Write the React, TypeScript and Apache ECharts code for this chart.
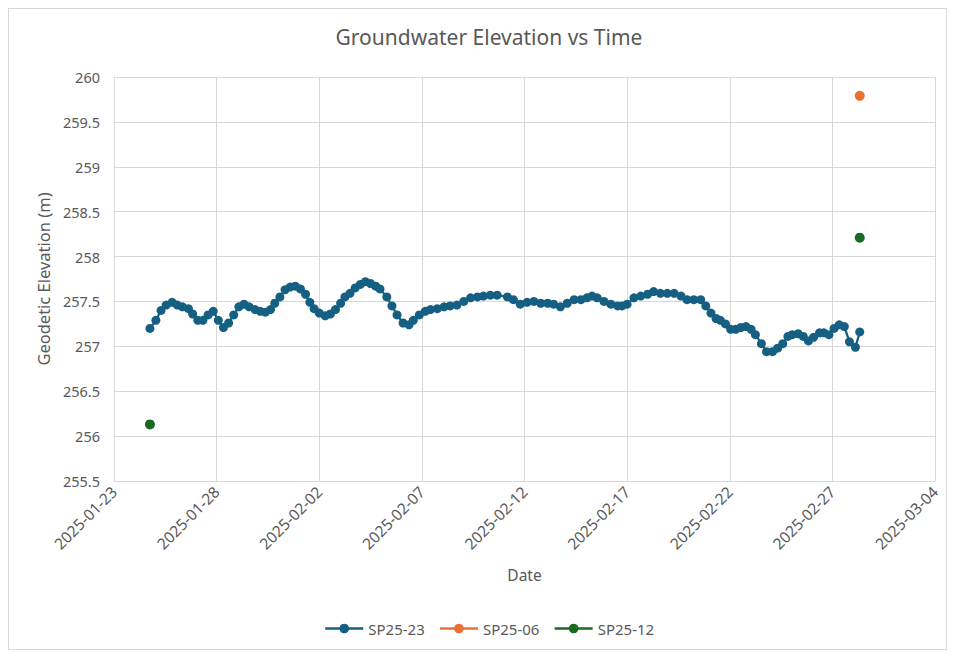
import React, { useEffect, useRef } from "react";
import * as echarts from "echarts";

const BASE_DATE = "2025-01-23";
const X_TICK_DAYS = 5;
const X_MAX_DAYS = 40;
const Y_TICKS = [255.5, 256, 256.5, 257, 257.5, 258, 258.5, 259, 259.5, 260];

const sp2523Times = [
  "2025-01-24 18:00", "2025-01-25 01:00", "2025-01-25 07:00", "2025-01-25 13:00", "2025-01-25 20:00",
  "2025-01-26 02:00", "2025-01-26 08:00", "2025-01-26 15:00", "2025-01-26 20:00", "2025-01-27 02:00",
  "2025-01-27 08:00", "2025-01-27 14:00", "2025-01-27 20:00", "2025-01-28 02:00", "2025-01-28 08:00",
  "2025-01-28 14:00", "2025-01-28 20:00", "2025-01-29 02:00", "2025-01-29 08:00", "2025-01-29 14:00",
  "2025-01-29 21:00", "2025-01-30 03:00", "2025-01-30 09:00", "2025-01-30 15:00", "2025-01-30 20:00",
  "2025-01-31 02:00", "2025-01-31 08:00", "2025-01-31 14:00", "2025-01-31 20:00", "2025-02-01 02:00",
  "2025-02-01 08:00", "2025-02-01 13:00", "2025-02-01 18:00", "2025-02-02 00:00", "2025-02-02 07:00",
  "2025-02-02 13:00", "2025-02-02 19:00", "2025-02-03 01:00", "2025-02-03 06:00", "2025-02-03 12:00",
  "2025-02-03 18:00", "2025-02-04 00:00", "2025-02-04 06:00", "2025-02-04 12:00", "2025-02-04 18:00",
  "2025-02-04 23:00", "2025-02-05 07:00", "2025-02-05 13:00", "2025-02-05 19:00", "2025-02-06 02:00",
  "2025-02-06 09:00", "2025-02-06 14:00", "2025-02-06 21:00", "2025-02-07 04:00", "2025-02-07 10:00",
  "2025-02-07 18:00", "2025-02-08 02:00", "2025-02-08 09:00", "2025-02-08 17:00", "2025-02-09 01:00",
  "2025-02-09 09:00", "2025-02-09 17:00", "2025-02-10 00:00", "2025-02-10 08:00", "2025-02-10 16:00",
  "2025-02-11 04:00", "2025-02-11 11:00", "2025-02-11 19:00", "2025-02-12 03:00", "2025-02-12 11:00",
  "2025-02-12 19:00", "2025-02-13 03:00", "2025-02-13 10:00", "2025-02-13 18:00", "2025-02-14 02:00",
  "2025-02-14 10:00", "2025-02-14 18:00", "2025-02-15 01:00", "2025-02-15 07:00", "2025-02-15 13:00",
  "2025-02-15 21:00", "2025-02-16 05:00", "2025-02-16 13:00", "2025-02-16 18:00", "2025-02-17 00:00",
  "2025-02-17 08:00", "2025-02-17 16:00", "2025-02-18 00:00", "2025-02-18 07:00", "2025-02-18 15:00",
  "2025-02-18 23:00", "2025-02-19 07:00", "2025-02-19 15:00", "2025-02-19 22:00", "2025-02-20 06:00",
  "2025-02-20 14:00", "2025-02-20 20:00", "2025-02-21 02:00", "2025-02-21 08:00", "2025-02-21 13:00",
  "2025-02-21 19:00", "2025-02-22 01:00", "2025-02-22 07:00", "2025-02-22 13:00", "2025-02-22 19:00",
  "2025-02-23 01:00", "2025-02-23 06:00", "2025-02-23 13:00", "2025-02-23 19:00", "2025-02-24 02:00",
  "2025-02-24 08:00", "2025-02-24 14:00", "2025-02-24 20:00", "2025-02-25 01:00", "2025-02-25 08:00",
  "2025-02-25 14:00", "2025-02-25 20:00", "2025-02-26 02:00", "2025-02-26 09:00", "2025-02-26 14:00",
  "2025-02-26 20:00", "2025-02-27 02:00", "2025-02-27 08:00", "2025-02-27 14:00", "2025-02-27 20:00",
  "2025-02-28 03:00", "2025-02-28 08:00",
];

const sp2523Values = [
  257.20, 257.29, 257.40, 257.46, 257.49,
  257.46, 257.44, 257.42, 257.36, 257.29,
  257.29, 257.35, 257.39, 257.29, 257.21,
  257.26, 257.35, 257.44, 257.47, 257.44,
  257.41, 257.39, 257.38, 257.41, 257.48,
  257.55, 257.63, 257.66, 257.67, 257.64,
  257.58, 257.49, 257.42, 257.37, 257.34,
  257.36, 257.41, 257.48, 257.55, 257.59,
  257.65, 257.69, 257.72, 257.70, 257.67,
  257.64, 257.55, 257.45, 257.35, 257.26,
  257.24, 257.29, 257.35, 257.39, 257.41,
  257.42, 257.44, 257.45, 257.46, 257.50,
  257.54, 257.55, 257.56, 257.57, 257.57,
  257.55, 257.52, 257.47, 257.49, 257.50,
  257.48, 257.48, 257.47, 257.44, 257.48,
  257.52, 257.52, 257.54, 257.56, 257.54,
  257.50, 257.47, 257.45, 257.45, 257.47,
  257.54, 257.56, 257.58, 257.61, 257.59,
  257.59, 257.59, 257.56, 257.52, 257.52,
  257.52, 257.45, 257.37, 257.31, 257.29,
  257.25, 257.19, 257.19, 257.21, 257.22,
  257.19, 257.13, 257.03, 256.94, 256.94,
  256.98, 257.03, 257.11, 257.13, 257.14,
  257.11, 257.06, 257.10, 257.15, 257.15,
  257.13, 257.20, 257.24, 257.22, 257.05,
  256.99, 257.16,
];

const sp2506Times = ["2025-02-28 08:00"];
const sp2506Values = [259.79];

const sp2512Times = ["2025-01-24 18:00", "2025-02-28 08:00"];
const sp2512Values = [256.13, 258.21];

const SERIES_NAMES = ["SP25-23", "SP25-06", "SP25-12"];
const COLORS = ["#156082", "#E97132", "#196B24"];

const DAY_MS = 86400000;
const baseMs = Date.parse(BASE_DATE + "T00:00:00Z");
const toDay = (t: string) => (Date.parse(t.replace(" ", "T") + ":00Z") - baseMs) / DAY_MS;
const dayToLabel = (d: number) => {
  const dt = new Date(baseMs + d * DAY_MS);
  const mm = String(dt.getUTCMonth() + 1).padStart(2, "0");
  const dd = String(dt.getUTCDate()).padStart(2, "0");
  return `${dt.getUTCFullYear()}-${mm}-${dd}`;
};

const FONT = "Noto Sans";
const TEXT = "#595959";
const GRID = "#d9d9d9";

export default function App() {
  const ref = useRef<HTMLDivElement>(null);
  useEffect(() => {
    if (!ref.current) return;
    const chart = echarts.init(ref.current, undefined, { renderer: "svg" });
    const pairs = (ts: string[], vs: number[]) => ts.map((t, i) => [toDay(t), vs[i]]);
    chart.setOption({
      animation: false,
      backgroundColor: "#ffffff",
      textStyle: { fontFamily: FONT },
      graphic: [
        {
          type: "text",
          x: 480,
          y: 28,
          style: {
            text: "Groundwater Elevation vs Time",
            fontSize: 21,
            fontFamily: FONT,
            fill: TEXT,
            textAlign: "center",
            textVerticalAlign: "middle",
          },
        },
      ],
      grid: { left: 105, top: 68, width: 821, height: 404 },
      legend: {
        left: 310,
        top: 607,
        itemWidth: 38,
        itemHeight: 12,
        itemGap: 14,
        textStyle: { fontSize: 15, color: TEXT, fontFamily: FONT },
        data: SERIES_NAMES.map((n, i) => ({
          name: n,
          lineStyle: { width: 2.5, color: COLORS[i], opacity: 1 },
        })),
      },
      xAxis: {
        type: "value",
        min: 0,
        max: X_MAX_DAYS,
        interval: X_TICK_DAYS,
        name: "Date",
        nameLocation: "middle",
        nameGap: 86,
        nameTextStyle: { fontSize: 15.5, color: TEXT, fontFamily: FONT },
        axisLine: { show: true, lineStyle: { color: GRID } },
        axisTick: { show: false },
        splitLine: { show: true, lineStyle: { color: GRID, width: 1 } },
        axisLabel: {
          rotate: 45,
          fontSize: 15.5,
          color: TEXT,
          margin: 8,
          fontFamily: FONT,
          formatter: (v: number) => dayToLabel(v),
        },
      },
      yAxis: {
        type: "value",
        min: Y_TICKS[0],
        max: Y_TICKS[Y_TICKS.length - 1],
        interval: 0.5,
        name: "Geodetic Elevation (m)",
        nameLocation: "middle",
        nameGap: 59,
        nameTextStyle: { fontSize: 16.5, color: TEXT, fontFamily: FONT },
        axisLine: { show: true, lineStyle: { color: GRID } },
        axisTick: { show: false },
        splitLine: { show: true, lineStyle: { color: GRID, width: 1 } },
        axisLabel: { fontSize: 14.5, color: TEXT, margin: 14, fontFamily: FONT },
      },
      series: [
        {
          name: SERIES_NAMES[0],
          type: "line",
          data: pairs(sp2523Times, sp2523Values),
          symbol: "circle",
          symbolSize: 9,
          showAllSymbol: true,
          color: COLORS[0],
          lineStyle: { width: 2.25, color: COLORS[0] },
          itemStyle: { color: COLORS[0] },
        },
        {
          name: SERIES_NAMES[1],
          type: "line",
          data: pairs(sp2506Times, sp2506Values),
          symbol: "circle",
          symbolSize: 10,
          color: COLORS[1],
          lineStyle: { width: 2.25, color: COLORS[1] },
          itemStyle: { color: COLORS[1] },
        },
        {
          name: SERIES_NAMES[2],
          type: "line",
          data: pairs(sp2512Times, sp2512Values),
          symbol: "circle",
          symbolSize: 10,
          color: COLORS[2],
          lineStyle: { width: 0, color: COLORS[2] },
          itemStyle: { color: COLORS[2] },
        },
      ],
    });
    return () => chart.dispose();
  }, []);

  return (
    <div
      style={{
        width: 939,
        height: 642,
        border: "1px solid #d9d9d9",
        boxSizing: "border-box",
        background: "#fff",
      }}
    >
      <div ref={ref} style={{ width: 937, height: 640 }} />
    </div>
  );
}
